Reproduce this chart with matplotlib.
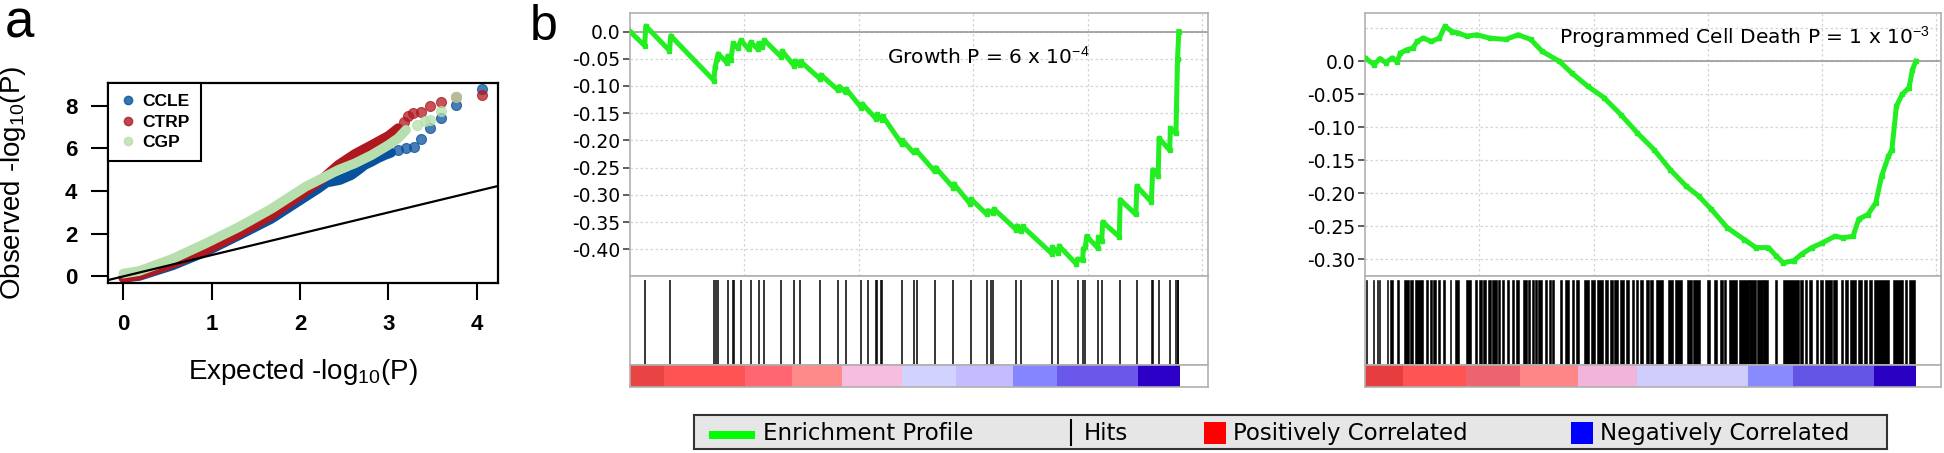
import matplotlib
matplotlib.use("Agg")
import matplotlib.pyplot as plt
from matplotlib.lines import Line2D
from matplotlib.patches import Rectangle

plt.rcParams["axes.unicode_minus"] = False
plt.rcParams["mathtext.fontset"] = "custom"
plt.rcParams["mathtext.rm"] = "Liberation Sans"
plt.rcParams["mathtext.it"] = "Liberation Sans:italic"
plt.rcParams["mathtext.bf"] = "Liberation Sans:bold"

# ---------------- panel a : QQ plot ----------------
qq_names = ["CCLE", "CTRP", "CGP"]
qq_colors = ["#08519c", "#b01820", "#b6dfad"]

ccle_band_x = [0.0, 0.18, 0.56, 0.93, 1.31, 1.68, 2.06, 2.21, 2.30, 2.45, 2.58, 2.66, 2.73, 2.81, 2.88, 2.96, 3.03]
ccle_band_y = [-0.06, 0.02, 0.52, 1.15, 1.93, 2.71, 3.73, 4.13, 4.40, 4.52, 4.75, 4.99, 5.22, 5.38, 5.54, 5.69, 5.80]
ccle_tail_x = [3.11, 3.20, 3.29, 3.37, 3.47, 3.59, 3.77, 4.06]
ccle_tail_y = [5.93, 6.01, 6.09, 6.45, 6.95, 7.45, 8.05, 8.78]

ctrp_band_x = [0.0, 0.18, 0.56, 0.93, 1.31, 1.68, 2.06, 2.25, 2.43, 2.62, 2.81, 3.00, 3.11]
ctrp_band_y = [-0.06, 0.05, 0.60, 1.22, 2.01, 2.87, 3.97, 4.56, 5.22, 5.74, 6.16, 6.59, 6.95]
ctrp_tail_x = [3.18, 3.22, 3.28, 3.37, 3.47, 3.59, 3.77, 4.06]
ctrp_tail_y = [7.26, 7.50, 7.65, 7.73, 7.97, 8.16, 8.41, 8.52]

cgp_band_x = [0.0, 0.18, 0.56, 0.93, 1.31, 1.68, 2.06, 2.25, 2.43, 2.62, 2.81, 3.00, 3.11, 3.20]
cgp_band_y = [0.13, 0.25, 0.83, 1.54, 2.32, 3.18, 4.20, 4.60, 4.99, 5.30, 5.69, 6.16, 6.48, 6.87]
cgp_tail_x = [3.32, 3.41, 3.47, 3.59, 3.77]
cgp_tail_y = [7.11, 7.31, 7.34, 7.78, 8.41]

qq_xticks = [0, 1, 2, 3, 4]
qq_yticks = [0, 2, 4, 6, 8]

# ---------------- panel b : enrichment profiles ----------------
growth_x = [0, 0.128, 0.138, 0.345, 0.356, 0.733, 0.743, 0.76, 0.770, 0.846, 0.853, 0.880, 0.902, 0.940,
            0.971, 1.036, 1.054, 1.115, 1.123, 1.157, 1.174, 1.323, 1.330, 1.434, 1.44, 1.485, 1.49, 1.661,
            1.67, 1.820, 1.83, 1.883, 1.89, 2.021, 2.03, 2.149, 2.16, 2.204, 2.21, 2.373, 2.38, 2.477, 2.50,
            2.663, 2.67, 2.826, 2.83, 2.97, 2.981, 3.119, 3.125, 3.171, 3.18, 3.375, 3.38, 3.420, 3.43, 3.686,
            3.69, 3.741, 3.75, 3.90, 3.910, 3.955, 3.96, 3.979, 3.99, 4.085, 4.093, 4.121, 4.13, 4.275, 4.283,
            4.42, 4.428, 4.555, 4.567, 4.615, 4.622, 4.715, 4.722, 4.770, 4.774, 4.784, 4.795]
growth_y = [0, -0.026, 0.010, -0.035, -0.008, -0.090, -0.066, -0.050, -0.041, -0.057, -0.045, -0.052, -0.022,
            -0.030, -0.016, -0.033, -0.020, -0.032, -0.022, -0.029, -0.016, -0.047, -0.036, -0.063, -0.054,
            -0.062, -0.055, -0.087, -0.080, -0.108, -0.101, -0.112, -0.106, -0.140, -0.133, -0.160, -0.152,
            -0.163, -0.156, -0.206, -0.200, -0.222, -0.218, -0.257, -0.250, -0.287, -0.280, -0.316, -0.308,
            -0.336, -0.329, -0.333, -0.326, -0.364, -0.357, -0.366, -0.358, -0.408, -0.396, -0.407, -0.394,
            -0.427, -0.418, -0.420, -0.400, -0.395, -0.376, -0.397, -0.378, -0.385, -0.350, -0.377, -0.309,
            -0.336, -0.284, -0.313, -0.254, -0.266, -0.196, -0.218, -0.178, -0.187, -0.145, -0.050, 0.0]
growth_hits = [0.128, 0.352, 0.736, 0.750, 0.770, 0.853, 0.902, 0.908, 0.971, 1.054, 1.123, 1.168, 1.320,
               1.434, 1.485, 1.661, 1.820, 1.883, 2.021, 2.079, 2.149, 2.159, 2.193, 2.204, 2.373, 2.477,
               2.504, 2.663, 2.826, 2.981, 3.119, 3.154, 3.171, 3.375, 3.420, 3.686, 3.741, 3.910, 3.955,
               3.979, 4.093, 4.121, 4.283, 4.428, 4.560, 4.567, 4.622, 4.722, 4.774, 4.784, 4.791]
growth_bar_edges = [0, 0.294, 1.002, 1.416, 1.848, 2.373, 2.850, 3.344, 3.731, 4.439, 4.801]
growth_bar_colors = ["#e84444", "#ff5252", "#ff6672", "#ff8a8a", "#f7bde0", "#d2d2ff", "#c4bcff",
                     "#8585ff", "#6a58ea", "#2c00c6"]
growth_yticks = [0.0, -0.05, -0.10, -0.15, -0.20, -0.25, -0.30, -0.35, -0.40]
growth_ylabels = ["0.0", "-0.05", "-0.10", "-0.15", "-0.20", "-0.25", "-0.30", "-0.35", "-0.40"]

death_x = [0, 0.08, 0.13, 0.18, 0.24, 0.28, 0.31, 0.37, 0.42, 0.457, 0.51, 0.58, 0.65, 0.70, 0.76, 0.81,
           0.89, 0.98, 1.09, 1.23, 1.34, 1.45, 1.55, 1.70, 1.81, 1.95, 2.09, 2.24, 2.38, 2.53, 2.67, 2.81,
           2.92, 3.03, 3.17, 3.32, 3.42, 3.53, 3.60, 3.66, 3.75, 3.82, 3.91, 4.0, 4.11, 4.18, 4.27, 4.32,
           4.40, 4.47, 4.52, 4.58, 4.61, 4.65, 4.70, 4.76, 4.79, 4.82]
death_y = [0.005, -0.005, 0.004, -0.002, 0.005, -0.001, 0.0126, 0.0176, 0.020, 0.030, 0.035, 0.030, 0.035,
           0.053, 0.045, 0.043, 0.038, 0.040, 0.035, 0.033, 0.040, 0.033, 0.015, 0.0, -0.018, -0.038, -0.055,
           -0.081, -0.108, -0.134, -0.164, -0.189, -0.204, -0.224, -0.252, -0.270, -0.282, -0.282, -0.295,
           -0.305, -0.302, -0.292, -0.282, -0.275, -0.265, -0.267, -0.265, -0.239, -0.232, -0.214, -0.174,
           -0.144, -0.134, -0.068, -0.050, -0.040, -0.013, 0.0]
death_hit_spans = [
    (0.009, 0.017), (0.067, 0.079), (0.108, 0.117), (0.122, 0.134), (0.190, 0.201), (0.219, 0.242),
    (0.280, 0.300), (0.344, 0.382), (0.394, 0.417), (0.437, 0.505), (0.537, 0.554), (0.569, 0.586),
    (0.598, 0.621), (0.636, 0.656), (0.685, 0.697), (0.744, 0.755), (0.787, 0.819), (0.884, 0.930),
    (0.962, 0.983), (1.000, 1.024), (1.035, 1.059), (1.073, 1.099), (1.114, 1.152), (1.164, 1.181),
    (1.199, 1.216), (1.239, 1.260), (1.283, 1.304), (1.321, 1.350), (1.379, 1.414), (1.429, 1.444),
    (1.458, 1.479), (1.487, 1.502), (1.516, 1.546), (1.575, 1.595), (1.610, 1.624), (1.633, 1.656),
    (1.706, 1.724), (1.750, 1.788), (1.808, 1.826), (1.843, 1.875), (1.916, 1.963), (1.974, 2.012),
    (2.033, 2.079), (2.100, 2.123), (2.143, 2.167), (2.178, 2.216), (2.231, 2.266), (2.281, 2.313),
    (2.333, 2.353), (2.371, 2.391), (2.406, 2.429), (2.458, 2.488), (2.493, 2.523), (2.546, 2.604),
    (2.654, 2.698), (2.712, 2.771), (2.814, 2.858), (2.873, 2.931), (2.989, 3.018), (3.056, 3.077),
    (3.106, 3.129), (3.141, 3.158), (3.188, 3.252), (3.275, 3.357), (3.363, 3.421), (3.433, 3.479),
    (3.485, 3.529), (3.587, 3.602), (3.660, 3.800), (3.806, 3.835), (3.850, 3.864), (3.887, 3.908),
    (3.946, 3.966), (3.981, 4.010), (4.024, 4.083), (4.097, 4.127), (4.162, 4.185), (4.199, 4.229),
    (4.243, 4.296), (4.316, 4.345), (4.366, 4.389), (4.412, 4.433), (4.453, 4.587), (4.616, 4.710),
    (4.724, 4.745), (4.762, 4.812)]
death_bar_edges = [0, 0.331, 0.888, 1.356, 1.860, 2.381, 3.353, 3.748, 4.450, 4.817]
death_bar_colors = ["#e63e3e", "#ff5454", "#ec6470", "#ff8686", "#f2b4da", "#cfcdfb", "#8a8aff",
                    "#6454e6", "#2a00c2"]
death_yticks = [0.0, -0.05, -0.10, -0.15, -0.20, -0.25, -0.30]
death_ylabels = ["0.0", "-0.05", "-0.10", "-0.15", "-0.20", "-0.25", "-0.30"]

legend_labels = ["Enrichment Profile", "Hits", "Positively Correlated", "Negatively Correlated"]

W, H = 1944, 453
fig = plt.figure(figsize=(W / 100, H / 100), dpi=100)


def box(l, t, r, b):
    return [l / W, 1 - b / H, (r - l) / W, (b - t) / H]


# ---- panel a
ax = fig.add_axes(box(108, 83, 498, 283))
bands = [(ccle_band_x, ccle_band_y, ccle_tail_x, ccle_tail_y),
         (ctrp_band_x, ctrp_band_y, ctrp_tail_x, ctrp_tail_y),
         (cgp_band_x, cgp_band_y, cgp_tail_x, cgp_tail_y)]
for (bx, by, tx, ty), col in zip(bands, qq_colors):
    ax.plot(bx, by, color=col, lw=7, solid_capstyle="round", solid_joinstyle="round", zorder=2)
    ax.scatter(tx, ty, s=52, color=col, alpha=0.75, edgecolors=col, linewidths=0.8, zorder=2)
ax.axline((0, 0), slope=1, color="black", lw=1.6, zorder=3)
ax.set_xlim(-0.173, 4.24)
ax.set_ylim(-0.31, 9.07)
ax.set_xticks(qq_xticks, [str(t) for t in qq_xticks], fontfamily="Liberation Sans",
              fontweight="bold", fontsize=16)
ax.set_yticks(qq_yticks, [str(t) for t in qq_yticks], fontfamily="Liberation Sans",
              fontweight="bold", fontsize=16)
ax.tick_params(direction="out", length=12, width=1.5, pad=10)
for s in ax.spines.values():
    s.set_linewidth(1.6)
ax.set_xlabel("Expected -log$_{10}$(P)", fontfamily="Liberation Sans", fontsize=20)
ax.set_ylabel("Observed -log$_{10}$(P)", fontfamily="Liberation Sans", fontsize=20)
ax.xaxis.set_label_coords(0.5, -0.37)
ax.yaxis.set_label_coords(-0.205, 0.5)
handles = [Line2D([], [], ls="none", marker="o", ms=6, color=c, alpha=0.8) for c in qq_colors]
leg = ax.legend(handles, qq_names, loc="upper left", bbox_to_anchor=(0, 1), borderaxespad=0,
                fancybox=False, edgecolor="black", framealpha=1, borderpad=0.65, handlelength=1.0,
                handletextpad=0.3, labelspacing=0.3,
                prop={"family": "Liberation Sans", "weight": "bold", "size": 12.5})
leg.get_frame().set_linewidth(1.5)

fig.text(5 / W, 1 - 38 / H, "a", fontsize=38, fontfamily="Liberation Sans", va="baseline")
fig.text(530 / W, 1 - 40 / H, "b", fontsize=36, fontfamily="Liberation Sans", va="baseline")


# ---- panel b
def gsea(left, right, px, py, yticks, ylabels, ylim, xlim, note, note_xy,
         hit_lines=None, hit_spans=None, edges=None, colors=None, extra_grid=None):
    grey = "#b0b0b0"
    ax1 = fig.add_axes(box(left, 13, right, 276))
    ax1.plot(px, py, color="#22ee22", lw=3.6, marker="s", ms=3.5, zorder=3)
    ax1.axhline(0, color="#999999", lw=1.2, zorder=2)
    if extra_grid is not None:
        ax1.axhline(extra_grid, color="#d5d5d5", lw=0.9, ls=(0, (2, 2)), zorder=0)
    ax1.set_xlim(*xlim)
    ax1.set_ylim(*ylim)
    ax1.set_xticks([1, 2, 3, 4, 5])
    ax1.set_yticks(yticks, ylabels)
    ax1.grid(True, color="#d5d5d5", lw=0.9, ls=(0, (2, 2)), zorder=0)
    ax1.tick_params(axis="x", length=0, labelbottom=False)
    ax1.tick_params(axis="y", length=5, width=1.2, color="#444444", pad=2, labelsize=13.5)
    ax1.text(note_xy[0], note_xy[1], note, fontsize=14.5, va="baseline")

    ax2 = fig.add_axes(box(left, 276, right, 365))
    if hit_lines is not None:
        ax2.vlines(hit_lines, 0, 0.955, color="black", lw=1.1)
    if hit_spans is not None:
        ax2.broken_barh([(a, b - a) for a, b in hit_spans], (0, 0.955), color="black", lw=0.4,
                        edgecolor="black")
    ax2.set_xlim(*xlim)
    ax2.set_ylim(0, 1)

    ax3 = fig.add_axes(box(left, 365, right, 387))
    for e0, e1, c in zip(edges[:-1], edges[1:], colors):
        ax3.axvspan(e0, e1, color=c, lw=0)
    ax3.set_xlim(*xlim)
    ax3.set_ylim(0, 1)
    for a in (ax1, ax2, ax3):
        for s in a.spines.values():
            s.set_color(grey)
            s.set_linewidth(1.2)
    for a in (ax2, ax3):
        a.set_xticks([])
        a.set_yticks([])


gsea(630, 1208, growth_x, growth_y, growth_yticks, growth_ylabels, (-0.449, 0.034), (0, 5.05),
     "Growth P = 6 x 10$^{-4}$", (2.245, -0.060), hit_lines=growth_hits,
     edges=growth_bar_edges, colors=growth_bar_colors)
gsea(1365, 1941, death_x, death_y, death_yticks, death_ylabels, (-0.325, 0.073), (0, 5.04),
     "Programmed Cell Death P = 1 x 10$^{-3}$", (1.70, 0.027), hit_spans=death_hit_spans,
     edges=death_bar_edges, colors=death_bar_colors, extra_grid=0.05)

# ---- shared legend
axl = fig.add_axes(box(694, 415, 1887, 449))
axl.set_xlim(0, 1)
axl.set_ylim(0, 1)
axl.set_xticks([])
axl.set_yticks([])
axl.set_facecolor("#e6e6e6")
for s in axl.spines.values():
    s.set_color("#333333")
    s.set_linewidth(1.5)
fx = lambda px: (px - 694) / 1193
axl.add_patch(Rectangle((fx(709), 0.28), fx(755) - fx(709), 0.26, color="#00ff00", lw=0))
axl.plot([fx(1071), fx(1071)], [0.12, 0.85], color="black", lw=1.5)
axl.add_patch(Rectangle((fx(1204), 0.15), fx(1226) - fx(1204), 0.64, color="#ff0000", lw=0))
axl.add_patch(Rectangle((fx(1571), 0.15), fx(1593) - fx(1571), 0.64, color="#0000ff", lw=0))
for px, lab in zip([763, 1084, 1233, 1600], legend_labels):
    axl.text(fx(px), 0.45, lab, fontsize=16.5, va="center", ha="left")

fig.savefig("out.png", dpi=100)
